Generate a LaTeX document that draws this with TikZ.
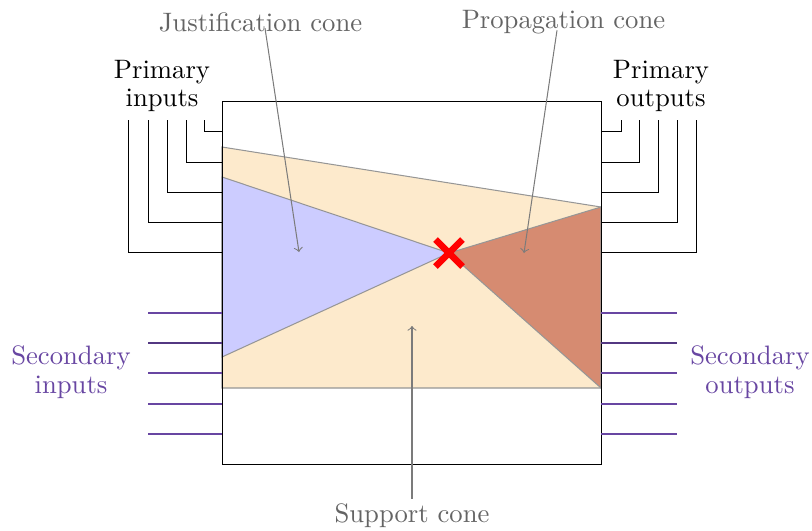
\documentclass[tikz,border=0pt]{standalone}
\usetikzlibrary{calc}
\definecolor{cream}{RGB}{253,234,204}
\definecolor{jblue}{RGB}{204,204,255}
\definecolor{pbrown}{RGB}{214,139,113}
\definecolor{spurple}{RGB}{104,70,162}
\definecolor{edgegray}{RGB}{150,150,150}
\definecolor{labgray}{RGB}{100,100,100}
\begin{document}
\begin{tikzpicture}[x=0.39pt,y=-0.39pt,
  lab/.style={inner sep=0pt,align=center,font=\fontsize{10.4}{11.2}\selectfont},
  glab/.style={lab,text=labgray},
  plab/.style={lab,text=spurple},
  cone/.style={draw=edgegray,line width=0.4pt},
  wire/.style={black,line width=0.35pt},
  swire/.style={spurple,line width=0.45pt},
  ptr/.style={->,labgray!85,line width=0.4pt,>=to}]
\useasboundingbox (0,0) rectangle (812,530);
% cones
\path[cone,fill=cream] (222,147) -- (601,207) -- (601,388) -- (222,388) -- cycle;
\coordinate (fault) at (449,253);
\path[cone,fill=jblue] (222,177) -- (fault) -- (222,357) -- cycle;
\path[cone,fill=pbrown] (fault) -- (601,207) -- (601,388) -- cycle;
% box
\node[draw,wire,minimum width=379*0.39pt,minimum height=363*0.39pt,inner sep=0pt] (box) at (411.5,282.5) {};
% primary inputs
\foreach \x/\y in {204/131,186/162,167/192,148/222,128/252}
  \draw[wire] (\x,120) |- (box.west |- 0,\y);
% primary outputs
\foreach \x/\y in {621/131,639/162,658/192,677/222,696/252}
  \draw[wire] (\x,120) |- (box.east |- 0,\y);
% secondary
\foreach \y in {313,373,404,434} {
  \draw[swire] (148,\y) -- (box.west |- 0,\y);
  \draw[swire] (box.east |- 0,\y) -- (677,\y);
}
\draw[swire,spurple!80!black] (148,343) -- (box.west |- 0,343);
\draw[swire,spurple!80!black] (box.east |- 0,343) -- (677,343);
% fault cross
\draw[red,line width=2.5pt] ($(fault)+(-13.5,-13.5)$) -- ($(fault)+(13.5,13.5)$)
  ($(fault)+(-13.5,13.5)$) -- ($(fault)+(13.5,-13.5)$);
% labels
\node[lab] (pin) at (162,86) {Primary\\inputs};
\node[lab] (pout) at (661,86) {Primary\\outputs};
\node[plab] (sin) at (71,372) {Secondary\\inputs};
\node[plab] (sout) at (750,372) {Secondary\\outputs};
\node[glab] (jl) at (260.5,22) {Justification cone};
\node[glab] (pl) at (563.5,22) {Propagation cone};
\node[glab] (sl) at (412,516) {Support cone};
\coordinate (jt) at (299,252);
\coordinate (pt) at (524,253);
\coordinate (st) at (412,326);
\draw[ptr] ($(jl.south)+(4.5,-4)$) -- (jt);
\draw[ptr] ($(pl.south)+(-6.5,-4)$) -- (pt);
\draw[ptr] ($(sl.north)+(0,-5)$) -- (st);
\end{tikzpicture}
\end{document}
